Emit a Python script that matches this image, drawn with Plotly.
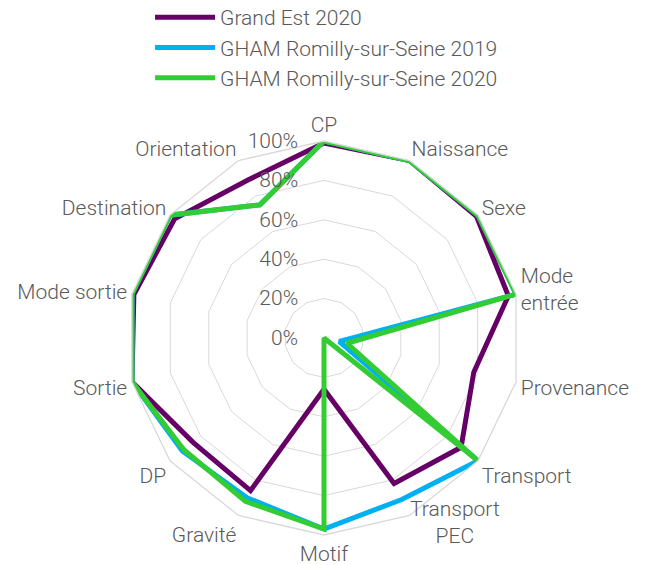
import plotly.graph_objects as go

categories = ["CP", "Naissance", "Sexe", "Mode<br>entrée", "Provenance", "Transport",
              "Transport<br>PEC", "Motif", "Gravité", "DP", "Sortie", "Mode sortie",
              "Destination", "Orientation"]
grand_est_2020 = [99, 100, 99, 96, 78, 89, 82, 26, 86, 85, 100, 99, 97, 89]
gham_2019 = [100, 100, 100, 100, 8, 100, 91, 97, 90, 92, 100, 100, 100, 75]
gham_2020 = [100, 100, 100, 100, 12, 100, 0, 97, 92, 91, 100, 100, 100, 75]
tick_vals = [0, 20, 40, 60, 80, 100]
tick_text = ["0%", "20%", "40%", "60%", "80%", "100%"]

series = [
    ("Grand Est 2020", grand_est_2020, "#660066"),
    ("GHAM Romilly-sur-Seine 2019", gham_2019, "#00B0F0"),
    ("GHAM Romilly-sur-Seine 2020", gham_2020, "#33CC33"),
]

fig = go.Figure()
for i, (name, vals, col) in enumerate(series):
    fig.add_trace(go.Scatterpolar(
        r=vals + vals[:1], theta=categories + categories[:1], name=name,
        mode="lines", line=dict(color=col, width=5), legendgroup=f"g{i}",
    ))

# the two-line label near the bottom is placed centred like the original
pec_label = categories[6]
angular_text = [c if c != pec_label else "" for c in categories]

font_color = "#595959"
fnt = dict(family="Roboto, Arial, sans-serif", size=21, color=font_color, weight=300)
fig.update_layout(
    width=651, height=565,
    margin=dict(l=0, r=0, t=0, b=0, autoexpand=False),
    paper_bgcolor="white",
    font=fnt,
    showlegend=True,
    legend=dict(x=0.2182, y=1.0195, xanchor="left", yanchor="top",
                traceorder="grouped", tracegroupgap=0, itemwidth=60,
                font=fnt, bgcolor="rgba(0,0,0,0)"),
    polar=dict(
        domain=dict(x=[0.1828, 0.7880], y=[0.0673, 0.7646]),
        gridshape="linear",
        bgcolor="white",
        radialaxis=dict(range=[0, 100], tickvals=tick_vals, ticktext=tick_text,
                        angle=90, side="counterclockwise", showline=False,
                        tickangle=90,
                        ticks="outside", ticklen=18, tickcolor="rgba(0,0,0,0)",
                        gridcolor="#D9D9D9", gridwidth=1.3,
                        tickfont=fnt),
        angularaxis=dict(rotation=90, direction="clockwise", showgrid=False,
                         showline=True, linecolor="#D9D9D9", linewidth=1.3,
                         tickmode="array", tickvals=categories, ticktext=angular_text,
                         ticks="", tickfont=fnt),
    ),
    annotations=[dict(text=pec_label, x=0.6866, y=0.0885, xref="paper", yref="paper",
                      xanchor="center", yanchor="middle", align="center",
                      showarrow=False, font=fnt)],
)
fig.write_html("out.html")
